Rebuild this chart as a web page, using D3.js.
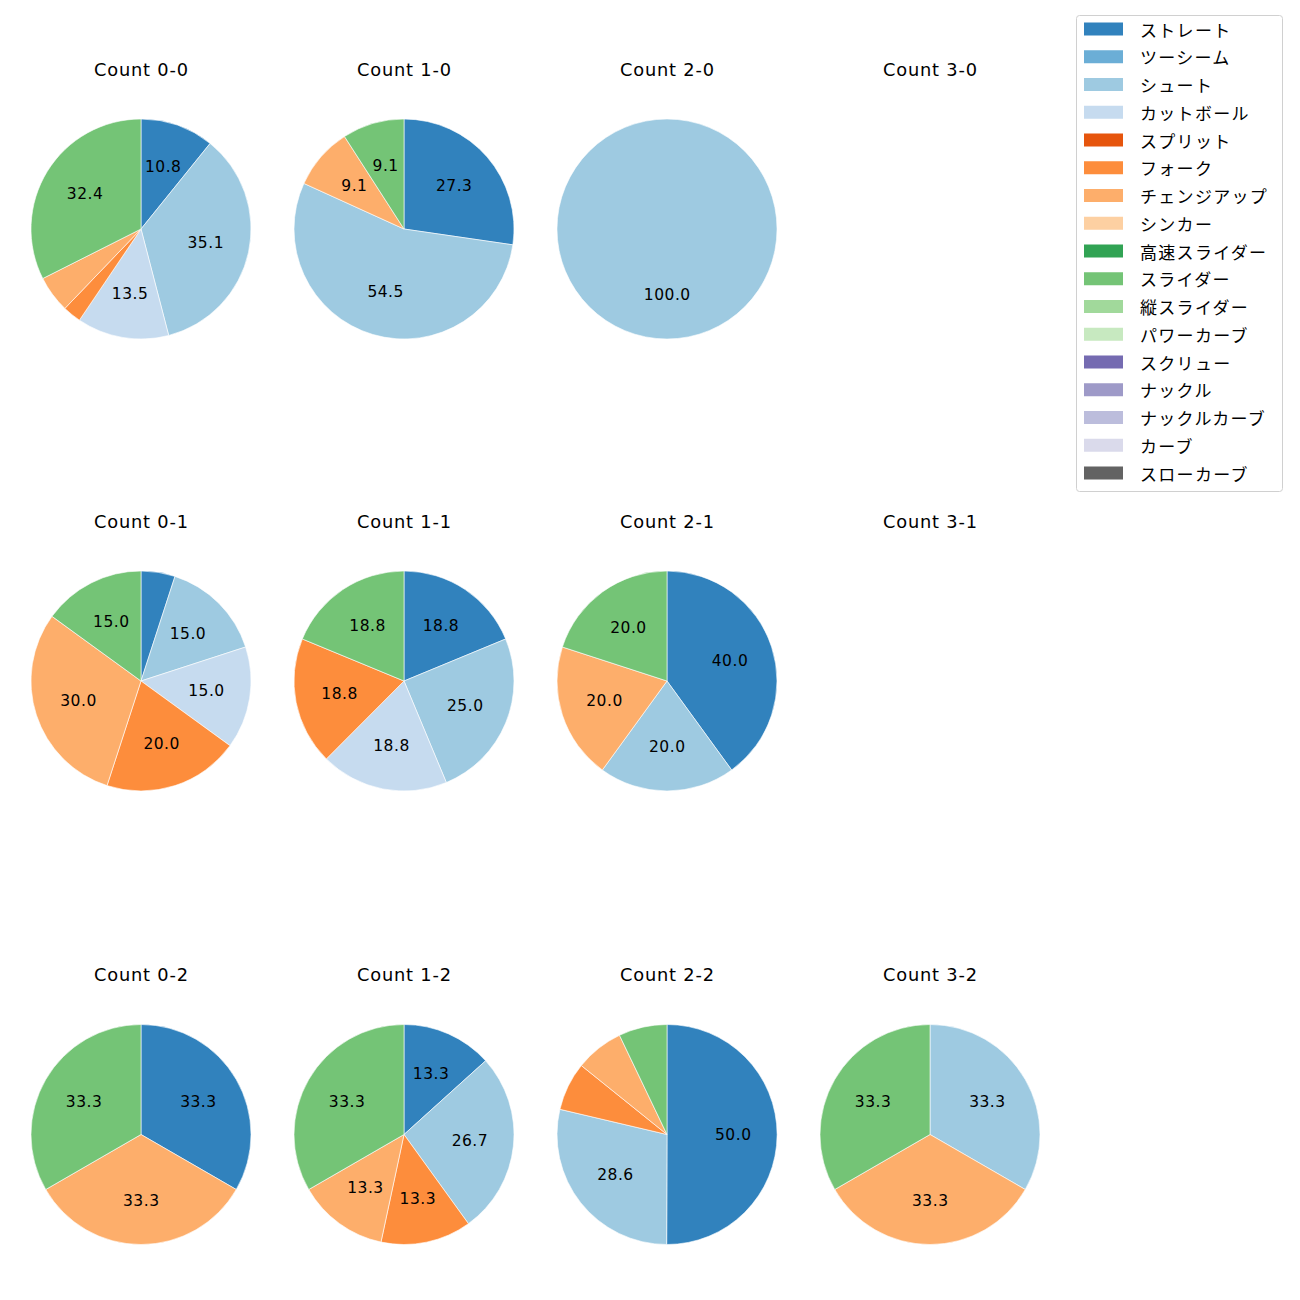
<!DOCTYPE html>
<html>
<head>
<meta charset="utf-8">
<script src="https://cdn.jsdelivr.net/npm/d3@7"></script>
<style>
  html, body { margin: 0; padding: 0; background: #fff; }
  svg { display: block; }
  .latin { font-family: "DejaVu Sans", sans-serif; }
  .jp { font-family: "Noto Sans CJK JP", sans-serif; }
</style>
</head>
<body>
<svg id="chart" width="1300" height="1300"></svg>
<script>
// Pitch types (legend order) and tab20c colours
const pitchTypes = ["ストレート","ツーシーム","シュート","カットボール","スプリット","フォーク","チェンジアップ","シンカー","高速スライダー","スライダー","縦スライダー","パワーカーブ","スクリュー","ナックル","ナックルカーブ","カーブ","スローカーブ"];
const pitchColors = ["#3182bd","#6baed6","#9ecae1","#c6dbef","#e6550d","#fd8d3c","#fdae6b","#fdd0a2","#31a354","#74c476","#a1d99b","#c7e9c0","#756bb1","#9e9ac8","#bcbddc","#dadaeb","#636363"];

// Count titles, row by row
const countTitles = ["Count 0-0","Count 1-0","Count 2-0","Count 3-0",
                     "Count 0-1","Count 1-1","Count 2-1","Count 3-1",
                     "Count 0-2","Count 1-2","Count 2-2","Count 3-2"];

// Share (%) of each pitch type per count, in pitchTypes order
const count00 = [10.8,0,35.1,13.5,0,2.7,5.4,0,0,32.4,0,0,0,0,0,0,0];
const count10 = [27.3,0,54.5,0,0,0,9.1,0,0,9.1,0,0,0,0,0,0,0];
const count20 = [0,0,100,0,0,0,0,0,0,0,0,0,0,0,0,0,0];
const count30 = [0,0,0,0,0,0,0,0,0,0,0,0,0,0,0,0,0];
const count01 = [5.0,0,15.0,15.0,0,20.0,30.0,0,0,15.0,0,0,0,0,0,0,0];
const count11 = [18.8,0,25.0,18.8,0,18.8,0,0,0,18.8,0,0,0,0,0,0,0];
const count21 = [40.0,0,20.0,0,0,0,20.0,0,0,20.0,0,0,0,0,0,0,0];
const count31 = [0,0,0,0,0,0,0,0,0,0,0,0,0,0,0,0,0];
const count02 = [33.3,0,0,0,0,0,33.3,0,0,33.3,0,0,0,0,0,0,0];
const count12 = [13.3,0,26.7,0,0,13.3,13.3,0,0,33.3,0,0,0,0,0,0,0];
const count22 = [50.0,0,28.6,0,0,7.1,7.1,0,0,7.1,0,0,0,0,0,0,0];
const count32 = [0,0,33.3,0,0,0,33.3,0,0,33.3,0,0,0,0,0,0,0];

const countShares = [count00,count10,count20,count30,
                     count01,count11,count21,count31,
                     count02,count12,count22,count32];

const svg = d3.select("#chart");

const colX = [141, 404, 667, 930];
const rowY = [229, 681, 1134.5];
const radius = 110;
const labelThreshold = 8;

const color = d3.scaleOrdinal().domain(pitchTypes).range(pitchColors);
const pie = d3.pie().sort(null).value(d => d.value);
const arc = d3.arc().innerRadius(0).outerRadius(radius);

const titleLS = 0.8, labelLS = 0.5;

countShares.forEach((shares, i) => {
  const cx = colX[i % 4], cy = rowY[Math.floor(i / 4)];
  const g = svg.append("g").attr("transform", `translate(${cx},${cy})`);

  svg.append("text").attr("class", "latin")
    .attr("x", cx + titleLS / 2).attr("y", cy - 160)
    .attr("text-anchor", "middle")
    .attr("dominant-baseline", "central")
    .attr("font-size", 17.8)
    .attr("letter-spacing", titleLS)
    .attr("fill", "#000")
    .text(countTitles[i]);

  const data = pitchTypes.map((p, j) => ({ type: p, value: shares[j] })).filter(d => d.value > 0);
  if (!data.length) return;
  const total = d3.sum(data, d => d.value);
  const arcs = pie(data);

  g.selectAll("path").data(arcs).join("path")
    .attr("d", arc)
    .attr("fill", d => color(d.data.type))
    .attr("stroke", "#fff")
    .attr("stroke-width", 0.6);

  g.selectAll("text").data(arcs.filter(d => d.data.value / total * 100 >= labelThreshold)).join("text")
    .attr("class", "latin")
    .attr("x", d => Math.sin((d.startAngle + d.endAngle) / 2) * radius * 0.6 + labelLS / 2)
    .attr("y", d => -Math.cos((d.startAngle + d.endAngle) / 2) * radius * 0.6)
    .attr("text-anchor", "middle")
    .attr("dominant-baseline", "central")
    .attr("font-size", 15.5)
    .attr("letter-spacing", labelLS)
    .attr("fill", "#000")
    .text(d => d.data.value.toFixed(1));
});

// Legend
const lg = svg.append("g");
lg.append("rect")
  .attr("x", 1076.5).attr("y", 15.5).attr("width", 206).attr("height", 476)
  .attr("rx", 3).attr("fill", "#fff").attr("stroke", "#d0d0d0").attr("stroke-width", 1);
const legendY = d3.scalePoint().domain(pitchTypes).range([29, 473]);
pitchTypes.forEach(p => {
  const y = legendY(p);
  lg.append("rect").attr("x", 1084).attr("y", y - 6.5).attr("width", 39).attr("height", 13)
    .attr("fill", color(p));
  lg.append("text").attr("class", "jp").attr("x", 1140).attr("y", y)
    .attr("dominant-baseline", "central")
    .attr("font-size", 17).attr("letter-spacing", 1.3).attr("fill", "#000")
    .text(p);
});
</script>
</body>
</html>
